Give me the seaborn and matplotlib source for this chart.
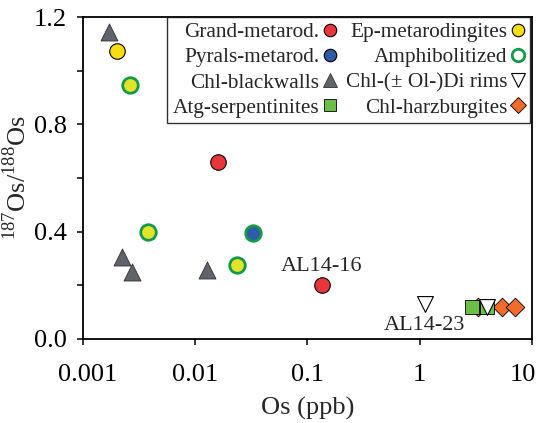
import pandas as pd
import seaborn as sns
import matplotlib.pyplot as plt
import matplotlib.transforms as mtransforms
from matplotlib.lines import Line2D

# data (Os in ppb, 187Os/188Os)
grand_x = [0.016, 0.134]
grand_y = [0.66, 0.20]
pyrals_x = [0.0327]
pyrals_y = [0.395]
ep_x = [0.00202]
ep_y = [1.073]
amph_x = [0.00262, 0.00382, 0.0236]
amph_y = [0.947, 0.398, 0.276]
blackwall_x = [0.00171, 0.00224, 0.00272, 0.0127]
blackwall_y = [1.144, 0.307, 0.251, 0.257]
rims_x = [1.11, 4.0]
rims_y = [0.13, 0.12]
serp_x = [2.92, 3.97]
serp_y = [0.12, 0.12]
harz_x = [3.3, 5.4, 7.1]
harz_y = [0.12, 0.12, 0.12]

xticks = [0.001, 0.01, 0.1, 1, 10]
xtick_labels = ['0.001', '0.01', '0.1', '1', '10']

red = '#E8363B'
yellow = '#F7DE12'
amph_fill = '#E3E429'
blue = '#2F5CA6'
green_edge = '#129A4A'
grey = '#5E6469'
green_sq = '#6BBE48'
orange = '#F26B2D'

sns.set_style('ticks')
plt.rcParams['font.family'] = ['Liberation Serif', 'DejaVu Serif']
plt.rcParams['mathtext.fontset'] = 'custom'
plt.rcParams['mathtext.rm'] = 'Liberation Serif'

fig = plt.figure(figsize=(5.38, 4.23), dpi=100)
ax = fig.add_axes([0.1543, 0.1986, 0.8345, 0.7612])

S = 125
sns.scatterplot(x=blackwall_x, y=blackwall_y, marker='^', s=150, color=grey,
                edgecolor='#333333', linewidth=0.6, ax=ax, legend=False, zorder=3)
sns.scatterplot(x=ep_x, y=ep_y, marker='o', s=S, color=yellow,
                edgecolor='black', linewidth=0.8, ax=ax, legend=False, zorder=3)
sns.scatterplot(x=amph_x, y=amph_y, marker='o', s=S, color=amph_fill,
                edgecolor=green_edge, linewidth=2.0, ax=ax, legend=False, zorder=3)
sns.scatterplot(x=grand_x, y=grand_y, marker='o', s=S, color=red,
                edgecolor='black', linewidth=0.8, ax=ax, legend=False, zorder=3)
sns.scatterplot(x=pyrals_x, y=pyrals_y, marker='o', s=S, color=blue,
                edgecolor=green_edge, linewidth=2.0, ax=ax, legend=False, zorder=3)
sns.scatterplot(x=harz_x, y=harz_y, marker='D', s=90, color=orange,
                edgecolor='black', linewidth=0.6, ax=ax, legend=False, zorder=3)
sns.scatterplot(x=serp_x, y=serp_y, marker='s', s=90, color=green_sq,
                edgecolor='black', linewidth=0.6, ax=ax, legend=False, zorder=4)
sns.scatterplot(x=rims_x, y=rims_y, marker='v', s=130, color='white',
                edgecolor='black', linewidth=0.8, ax=ax, legend=False, zorder=5)

ax.text(grand_x[1], 0.272, 'AL14-16', ha='center', va='center', fontsize=16)
ax.text(rims_x[0], 0.05, 'AL14-23', ha='center', va='center', fontsize=16)

ax.set_xscale('log')
ax.set_xlim(0.001, 10)
ax.set_ylim(0, 1.2)
ax.set_xticks(xticks)
ax.set_xticklabels(xtick_labels)
ax.xaxis.set_minor_locator(plt.NullLocator())
ax.set_yticks([0.0, 0.4, 0.8, 1.2])
ax.set_yticklabels(['0.0', '0.4', '0.8', '1.2'])
ax.set_yticks([0.2, 0.6, 1.0], minor=True)
ax.tick_params(axis='both', which='both', direction='out', length=4, width=1.1,
               labelsize=19, color='black', labelcolor='black')
ax.tick_params(axis='x', pad=14)
ax.tick_params(axis='y', pad=7.5)
for sp in ax.spines.values():
    sp.set_linewidth(1.3)
    sp.set_color('black')

# first and last x labels sit slightly inward in the original
xl = ax.get_xticklabels()
xl[0].set_transform(xl[0].get_transform() + mtransforms.ScaledTranslation(5 / 100, 0, fig.dpi_scale_trans))
xl[-1].set_transform(xl[-1].get_transform() + mtransforms.ScaledTranslation(-9 / 100, 0, fig.dpi_scale_trans))

ax.set_xlabel('Os (ppb)', fontsize=19, labelpad=8)
ax.set_ylabel(r'$^{187}$Os/$^{188}$Os', fontsize=19, labelpad=2)

def mk(marker, face, edge, lw, size=9):
    return Line2D([], [], linestyle='none', marker=marker, markerfacecolor=face,
                  markeredgecolor=edge, markeredgewidth=lw, markersize=size)

handles = [
    mk('o', red, 'black', 0.8),
    mk('o', blue, 'black', 0.8),
    mk('^', grey, '#333333', 0.6, 10),
    mk('s', green_sq, 'black', 0.6, 8),
    mk('o', yellow, 'black', 0.8),
    mk('o', 'white', green_edge, 2.0),
    mk('v', 'white', 'black', 0.8, 10),
    mk('D', orange, 'black', 0.6, 8),
]
labels = ['Grand-metarod.', 'Pyrals-metarod.', 'Chl-blackwalls', 'Atg-serpentinites',
          'Ep-metarodingites', 'Amphibolitized', 'Chl-(\u00b1 Ol-)Di rims', 'Chl-harzburgites']
leg = ax.legend(handles, labels, ncol=2, loc='upper right', bbox_to_anchor=(0.995, 1.0),
                markerfirst=False, fontsize=15.3, frameon=True, fancybox=False,
                edgecolor='black', borderaxespad=0, handlelength=0.6, handletextpad=0.2,
                columnspacing=0.45, labelspacing=0.25, borderpad=0.25)
leg.get_frame().set_linewidth(1.0)

fig.savefig('out.png', dpi=100)
